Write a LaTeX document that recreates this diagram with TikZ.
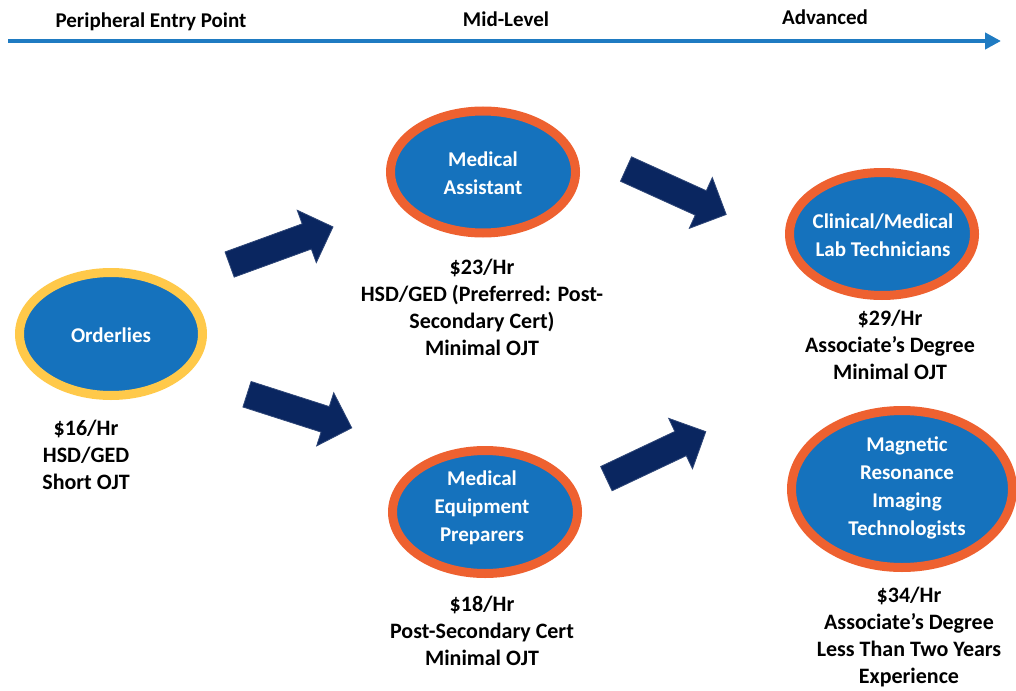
\documentclass[tikz,border=0pt]{standalone}
\usepackage{fontspec}
\setmainfont{Carlito}
\usetikzlibrary{shapes.geometric,shapes.arrows,arrows.meta}

\definecolor{jobblue}{HTML}{1572BD}
\definecolor{ringorange}{HTML}{EE6130}
\definecolor{ringyellow}{HTML}{FFC94A}
\definecolor{navyarrow}{HTML}{0A2660}
\definecolor{lineblue}{HTML}{1F7BC2}

\tikzset{
  job/.style={ellipse,fill=jobblue,draw=ringorange,line width=4.5pt,
    minimum width=92.5pt,minimum height=61.5pt,inner sep=0pt},
  jobtext/.style={text=white,font=\bfseries\fontsize{10.5}{14}\selectfont,align=center},
  pay/.style={font=\bfseries\fontsize{11}{13.5}\selectfont,align=center},
  stage/.style={font=\bfseries\fontsize{10.5}{12}\selectfont},
  move/.style={single arrow,fill=navyarrow,draw=navyarrow!85!white,line width=0.4pt,
    minimum height=55pt,inner xsep=0pt,inner ysep=6.5pt,single arrow head extend=7.25pt}
}

\begin{document}
\begin{tikzpicture}[x=0.5pt,y=-0.5pt]
  \useasboundingbox (0,0) rectangle (1016,690);
  % career timeline
  \node[stage] (entry) at (151,22) {Peripheral Entry Point};
  \node[stage] (mid) at (506,19) {Mid-Level};
  \node[stage] (adv) at (825,17) {Advanced};
  \coordinate (t0) at (8,41);
  \coordinate (t1) at (1001,41);
  \draw[lineblue,line width=2pt,-{Triangle[length=8pt,width=8pt]}] (t0) -- (t1);

  % occupations
  \node[job,draw=ringyellow,minimum width=91.5pt] (ord) at (111,334) {};
  \node[job,minimum height=61pt] (ma) at (483,172) {};
  \node[job] (clin) at (882,234) {};
  \node[job] (mep) at (485,512) {};
  \node[job,minimum width=110.5pt,minimum height=78.5pt] (mri) at (902,489) {};

  \node[jobtext] (ord-t) at (111,335) {Orderlies};
  \node[jobtext] (ma-t) at (483,173) {Medical\\Assistant};
  \node[jobtext] (clin-t) at (883,235) {Clinical/Medical\\Lab Technicians};
  \node[jobtext] (mep-t) at (482,507.5) {Medical\\Equipment\\Preparers};
  \node[jobtext] (mri-t) at (907,487.5) {Magnetic\\Resonance\\Imaging\\Technologists};

  % wages and requirements
  \node[pay] (ord-p) at (86,455) {\$16/Hr\\HSD/GED\\Short OJT};
  \node[pay] (ma-p) at (482,307.5) {\$23/Hr\\HSD/GED (Preferred: Post-\\Secondary Cert)\\Minimal OJT};
  \node[pay] (clin-p) at (890,344.5) {\$29/Hr\\Associate’s Degree\\Minimal OJT};
  \node[pay] (mep-p) at (482,631) {\$18/Hr\\Post-Secondary Cert\\Minimal OJT};
  \node[pay] (mri-p) at (909,637) {\$34/Hr\\Associate’s Degree\\Less Than Two Years\\Experience};

  % paths
  \node[move,rotate=20] (ord-ma) at (275,248) {};
  \node[move,rotate=-17.8] (ord-mep) at (293,409) {};
  \node[move,rotate=-24.4] (ma-clin) at (670,189) {};
  \node[move,rotate=25.3] (mep-mri) at (650,458) {};
\end{tikzpicture}
\end{document}
